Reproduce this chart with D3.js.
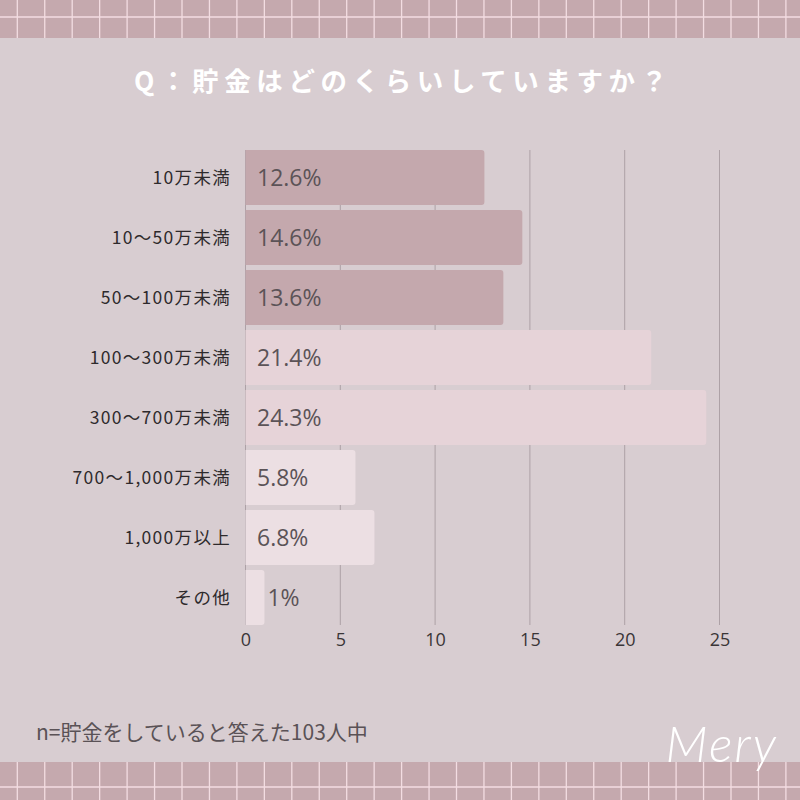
<!DOCTYPE html>
<html><head><meta charset="utf-8">
<script src="https://cdn.jsdelivr.net/npm/d3@7"></script>
<style>body{margin:0;background:#d8cdd1;}svg{display:block;}</style>
</head><body>
<svg id="c" width="800" height="800"></svg>
<script>
const categories = ["10万未満","10〜50万未満","50〜100万未満","100〜300万未満","300〜700万未満","700〜1,000万未満","1,000万以上","その他"];
const values = [12.6, 14.6, 13.6, 21.4, 24.3, 5.8, 6.8, 1];
const valueLabels = ["12.6%","14.6%","13.6%","21.4%","24.3%","5.8%","6.8%","1%"];
const colorGroups = ["dark","dark","dark","mid","mid","light","light","light"];
const xTicks = [0,5,10,15,20,25];
const titleText = "Q：貯金はどのくらいしていますか？";
const noteText = "n=貯金をしていると答えた103人中";
const logoText = "Mery";

const W = 800, H = 800;
const svg = d3.select("#c");
const jp = "'Noto Sans CJK JP','Noto Sans',sans-serif";
const colors = {dark:"#c4a8ad", mid:"#e6d3d8", light:"#ecdfe3"};

svg.append("rect").attr("width",W).attr("height",H).attr("fill","#d8cdd1");

// decorative grid bands
function band(y0,h,hy){
  const g = svg.append("g");
  g.append("rect").attr("x",0).attr("y",y0).attr("width",W).attr("height",h).attr("fill","#c5a9ae");
  const xs = d3.range(17.3, W, 27.45);
  g.selectAll("line.v").data(xs).join("line").attr("x1",d=>d).attr("x2",d=>d)
    .attr("y1",y0).attr("y2",y0+h).attr("stroke","#f3dde2").attr("stroke-width",1.3);
  g.append("line").attr("x1",0).attr("x2",W).attr("y1",hy).attr("y2",hy)
    .attr("stroke","#f3dde2").attr("stroke-width",1.3);
}
band(0,38,17);
band(762,38,787);

// title
svg.append("text").attr("x",134).attr("y",91).attr("text-anchor","start")
  .attr("font-family",jp).attr("font-weight","bold").attr("font-size",26.5)
  .attr("letter-spacing",5.6).attr("fill","#ffffff").text(titleText);

const x = d3.scaleLinear().domain([0,25]).range([245.5,719.5]);
const y = d3.scaleBand().domain(categories).range([150,625]).paddingInner(5/60).paddingOuter(0);

// gridlines
svg.append("g").selectAll("line").data(xTicks).join("line")
  .attr("x1",d=>x(d)).attr("x2",d=>x(d)).attr("y1",150).attr("y2",625)
  .attr("stroke","#ada1a6").attr("stroke-width",1);

// bars with rounded right corners
function barPath(x0,x1,yt,h,r){
  r = Math.min(r,(x1-x0));
  return `M${x0},${yt}H${x1-r}Q${x1},${yt} ${x1},${yt+r}V${yt+h-r}Q${x1},${yt+h} ${x1-r},${yt+h}H${x0}Z`;
}
svg.append("g").selectAll("path").data(values).join("path")
  .attr("d",(d,i)=>barPath(x(0),x(d),y(categories[i]),y.bandwidth(),3))
  .attr("fill",(d,i)=>colors[colorGroups[i]]);

// value labels
svg.append("g").selectAll("text").data(values).join("text")
  .attr("x",(d,i)=> d > 3 ? 257 : x(d)+3)
  .attr("y",(d,i)=>y(categories[i])+y.bandwidth()/2)
  .attr("dy","0.36em")
  .attr("font-family","'Open Sans','Noto Sans',sans-serif").attr("font-size",23)
  .attr("fill","#5b5357").text((d,i)=>valueLabels[i]);

// category labels
svg.append("g").selectAll("text").data(categories).join("text")
  .attr("x",231).attr("y",d=>y(d)+y.bandwidth()/2).attr("dy","0.36em")
  .attr("text-anchor","end").attr("font-family",jp).attr("font-size",17.5)
  .attr("letter-spacing",1.3).attr("fill","#2e2a2c").text(d=>d);

// x axis
const ax = svg.append("g").attr("transform","translate(0,629)")
  .call(d3.axisBottom(x).tickValues(xTicks).tickSize(0).tickPadding(4));
ax.select(".domain").remove();
ax.selectAll("text").attr("font-family","'Open Sans','Noto Sans',sans-serif")
  .attr("font-size",18).attr("fill","#3a3537");

// note
svg.append("text").attr("x",36).attr("y",740).attr("font-family",jp)
  .attr("font-size",21).attr("fill","#5a5256").text(noteText);

// logo
svg.append("text").attr("x",778).attr("y",762).attr("text-anchor","end")
  .attr("font-family","Lato,'DejaVu Sans',sans-serif").attr("font-style","italic")
  .attr("font-weight","300").attr("font-size",50).attr("fill","#ffffff")
  .attr("letter-spacing",2).text(logoText);
</script>
</body></html>
